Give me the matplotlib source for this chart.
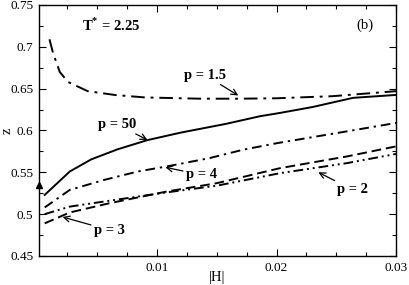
import numpy as np
import matplotlib
matplotlib.use('Agg')
import matplotlib.pyplot as plt
from matplotlib.ticker import MultipleLocator

plt.rcParams['font.family'] = 'Liberation Serif'
plt.rcParams['font.size'] = 9.5
plt.rcParams['mathtext.fontset'] = 'custom'
plt.rcParams['mathtext.rm'] = 'Liberation Serif'
plt.rcParams['mathtext.bf'] = 'Liberation Serif:bold'

# data
h_15 = [0.001, 0.0013, 0.00186, 0.00255, 0.0042, 0.0065, 0.009, 0.0136, 0.0168, 0.02, 0.0247, 0.03]
z_15 = [0.709, 0.6926, 0.670, 0.658, 0.647, 0.6424, 0.6395, 0.638, 0.638, 0.6385, 0.641, 0.647]

h_50 = [0.0006, 0.0027, 0.0045, 0.0067, 0.0092, 0.012, 0.0158, 0.0186, 0.0203, 0.023, 0.0264, 0.03]
z_50 = [0.523, 0.551, 0.5655, 0.5775, 0.5885, 0.5975, 0.608, 0.617, 0.621, 0.628, 0.639, 0.6425]

h_4 = [0.0006, 0.0027, 0.0056, 0.0084, 0.0108, 0.0144, 0.0172, 0.0201, 0.0259, 0.03]
z_4 = [0.508, 0.529, 0.541, 0.551, 0.557, 0.567, 0.577, 0.585, 0.599, 0.609]

h_low = [0.0006, 0.0027, 0.006, 0.0108, 0.015, 0.0203, 0.0259, 0.03]
z_3 = [0.489, 0.502, 0.513, 0.527, 0.537, 0.555, 0.569, 0.581]
z_2 = [0.500, 0.509, 0.516, 0.526, 0.534, 0.549, 0.561, 0.572]

fig = plt.figure(figsize=(4.09, 2.85), dpi=100)
ax = fig.add_axes([0.0954, 0.1018, 0.8728, 0.8807])

lw = 1.4
ax.plot(h_15, z_15, color='black', lw=lw, linestyle=(0, (7, 3, 1.5, 3)))
ax.plot(h_50, z_50, color='black', lw=lw, linestyle='-')
ax.plot(h_4, z_4, color='black', lw=lw, linestyle=(0, (5, 2.5, 1.2, 2.5)))
ax.plot(h_low, z_3, color='black', lw=lw, linestyle=(0, (5, 2.5)))
ax.plot(h_low, z_2, color='black', lw=lw, linestyle=(0, (5, 2, 1, 2, 1, 2)))

ax.plot([0.00012], [0.535], marker='^', color='black', markersize=5, clip_on=False)

ax.set_xlim(0.000125, 0.03)
ax.set_ylim(0.45, 0.75)
ax.xaxis.set_minor_locator(MultipleLocator(0.0025))
ax.yaxis.set_minor_locator(MultipleLocator(0.025))
ax.tick_params(which='both', direction='in', top=True, right=True)
ax.tick_params(which='major', length=5, width=0.8, pad=4)
ax.tick_params(which='minor', length=3, width=0.8)
ax.set_xticks([0.01, 0.02, 0.03])
ax.set_xticklabels(['0.01', '0.02', '0.03'])
ax.set_yticks([0.45, 0.5, 0.55, 0.6, 0.65, 0.7, 0.75])
ax.set_yticklabels(['0.45', '0.5', '0.55', '0.6', '0.65', '0.7', '0.75'])
for s in ax.spines.values():
    s.set_linewidth(1.0)

ax.set_xlabel('|H|', fontsize=10.5)
ax.xaxis.set_label_coords(0.5, -0.06)
ax.set_ylabel('z', fontsize=10.5, va='center')
ax.yaxis.set_label_coords(-0.088, 0.5)

ax.text(0.0037, 0.726, r'T$^{\mathbf{*}}$ = 2.25', fontweight='bold', fontsize=10.5,
        va='center', ha='left')
ax.text(0.0267, 0.726, '(b)', va='center', ha='left', fontsize=10.5)

bold = dict(fontweight='bold', fontsize=10.5, va='center', ha='left')
arr = dict(arrowstyle='->', color='black', lw=0.9, shrinkA=0, shrinkB=0)
ax.annotate('p = 1.5', xy=(0.0168, 0.6418), xytext=(0.0123, 0.666), arrowprops=arr, **bold)
ax.annotate('p = 50', xy=(0.0092, 0.5887), xytext=(0.0051, 0.607), arrowprops=arr, **bold)
ax.annotate('p = 4', xy=(0.0107, 0.556), xytext=(0.0124, 0.547), arrowprops=arr, **bold)
ax.annotate('p = 2', xy=(0.0235, 0.550), xytext=(0.0251, 0.529), arrowprops=arr, **bold)
ax.annotate('p = 3', xy=(0.0021, 0.4966), xytext=(0.0047, 0.481), arrowprops=arr, **bold)

fig.savefig('out.png', dpi=100)
